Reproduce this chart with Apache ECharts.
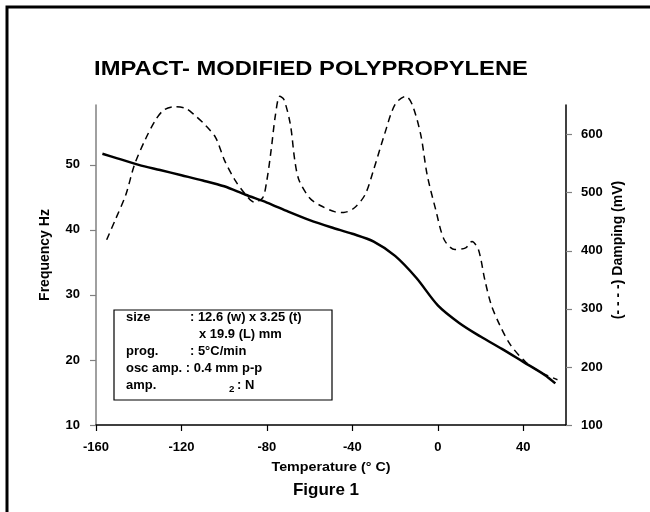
<!DOCTYPE html>
<html>
<head>
<meta charset="utf-8">
<script src="https://cdn.jsdelivr.net/npm/echarts@6/dist/echarts.min.js"></script>
<style>
  html, body { margin: 0; padding: 0; background: #fff; }
  #chart { width: 650px; height: 512px; }
</style>
</head>
<body>
<div id="chart"></div>
<script>
// frequency curve (solid line), left axis
var freqTemp = [-157, -150, -140, -130, -120, -110, -100, -90, -80, -70, -60, -50, -40, -30, -20, -10, 0, 10, 20, 30, 40, 50, 55];
var freqHz   = [51.7, 51.0, 50.0, 49.2, 48.4, 47.6, 46.7, 45.4, 44.2, 42.8, 41.5, 40.4, 39.4, 38.2, 36.0, 32.6, 28.4, 25.7, 23.6, 21.7, 19.7, 17.7, 16.4];

// damping curve (dashed line), right axis
var dampTemp = [-155, -151, -146, -142, -137, -132, -128, -123, -118, -114, -109, -104, -100, -95, -90, -86, -82, -80, -78, -76, -74, -72, -69, -67, -65, -60, -55, -48, -44, -39, -34, -30, -25, -20, -15, -12, -8, -5, -1, 3, 8, 13, 16, 19, 22, 25, 29, 34, 41, 48, 56];
var dampMV   = [419, 453, 497, 548, 591, 626, 643, 648, 645, 634, 617, 595, 557, 522, 497, 484, 491, 522, 574, 634, 666, 660, 617, 557, 522, 491, 478, 467, 466, 474, 497, 540, 600, 652, 666, 652, 600, 531, 471, 419, 402, 405, 416, 402, 350, 307, 272, 238, 209, 191, 178];

var xTicks = [-160, -120, -80, -40, 0, 40];
var freqTicks = [10, 20, 30, 40, 50];
var dampTicks = [100, 200, 300, 400, 500, 600];

function pairs(xs, ys) {
  return xs.map(function (x, i) { return [x, ys[i]]; });
}

var tickFont = { fontFamily: 'Liberation Sans', fontWeight: 'bold', fontSize: 13, color: '#000' };

function boxText(x, y, text, size) {
  return {
    type: 'text', x: x, y: y, scaleX: 1.08,
    style: { text: text, font: 'bold ' + (size || 12) + 'px "Liberation Sans", Arial, sans-serif', fill: '#000', align: 'left', verticalAlign: 'middle' }
  };
}

var chart = echarts.init(document.getElementById('chart'));

var option = {
  animation: false,
  backgroundColor: '#fff',
  grid: { left: 96, right: 84, top: 105, bottom: 87 },
  xAxis: {
    type: 'value', min: -160, max: 60,
    axisLine: { show: true, onZero: false, lineStyle: { color: '#000', width: 1.5 } },
    axisTick: { show: true, length: 6, customValues: xTicks, lineStyle: { color: '#000', width: 1.2 } },
    axisLabel: Object.assign({ customValues: xTicks, margin: 16 }, tickFont),
    splitLine: { show: false }
  },
  yAxis: [
    {
      type: 'value', min: 10, max: 59.2, position: 'left',
      axisLine: { show: true, onZero: false, lineStyle: { color: '#808080', width: 1.5 } },
      axisTick: { show: true, length: 6, customValues: freqTicks, lineStyle: { color: '#808080', width: 1.2 } },
      axisLabel: Object.assign({ customValues: freqTicks, margin: 16 }, tickFont),
      splitLine: { show: false }
    },
    {
      type: 'value', min: 100, max: 651, position: 'right',
      axisLine: { show: true, onZero: false, lineStyle: { color: '#000', width: 1.5 } },
      axisTick: { show: true, length: 6, customValues: dampTicks, lineStyle: { color: '#808080', width: 1.2 } },
      axisLabel: Object.assign({ customValues: dampTicks, margin: 15 }, tickFont),
      splitLine: { show: false }
    }
  ],
  series: [
    {
      name: 'Frequency', type: 'line', yAxisIndex: 0,
      data: pairs(freqTemp, freqHz),
      smooth: 0.3, showSymbol: false, clip: false,
      lineStyle: { color: '#000', width: 2.5 }
    },
    {
      name: 'Damping', type: 'line', yAxisIndex: 1,
      data: pairs(dampTemp, dampMV),
      smooth: 0.3, showSymbol: false, clip: false,
      lineStyle: { color: '#000', width: 1.5, type: [7, 5] }
    }
  ],
  graphic: [
    // outer frame (only top and left edges fall inside the picture)
    { type: 'rect', shape: { x: 7, y: 7, width: 700, height: 600 }, style: { fill: 'none', stroke: '#000', lineWidth: 3 } },
    {
      type: 'text', x: 311, y: 69, scaleX: 1.13,
      style: { text: 'IMPACT- MODIFIED POLYPROPYLENE', font: 'bold 21px "Liberation Sans", Arial, sans-serif', fill: '#000', align: 'center', verticalAlign: 'middle' }
    },
    {
      type: 'text', x: 45, y: 255, rotation: Math.PI / 2,
      style: { text: 'Frequency Hz', font: 'bold 14px "Liberation Sans", Arial, sans-serif', fill: '#000', align: 'center', verticalAlign: 'middle' }
    },
    {
      type: 'text', x: 618, y: 250, rotation: Math.PI / 2,
      style: { text: '(- - - -) Damping (mV)', font: 'bold 14px "Liberation Sans", Arial, sans-serif', fill: '#000', align: 'center', verticalAlign: 'middle' }
    },
    {
      type: 'text', x: 331, y: 467, scaleX: 1.1,
      style: { text: 'Temperature (° C)', font: 'bold 13px "Liberation Sans", Arial, sans-serif', fill: '#000', align: 'center', verticalAlign: 'middle' }
    },
    {
      type: 'text', x: 326, y: 490,
      style: { text: 'Figure 1', font: 'bold 17px "Liberation Sans", Arial, sans-serif', fill: '#000', align: 'center', verticalAlign: 'middle' }
    },
    // annotation box
    { type: 'rect', shape: { x: 114, y: 310, width: 218, height: 90 }, style: { fill: '#fff', stroke: '#000', lineWidth: 1.2 } },
    boxText(126, 318, 'size'),
    boxText(190, 318, ': 12.6 (w) x 3.25 (t)'),
    boxText(199, 335, 'x 19.9 (L) mm'),
    boxText(126, 352, 'prog.'),
    boxText(190, 352, ': 5°C/min'),
    boxText(126, 369, 'osc amp. : 0.4 mm p-p'),
    boxText(126, 386, 'amp.'),
    boxText(229, 390, '2', 9),
    boxText(237, 386, ': N')
  ]
};

chart.setOption(option);
window.addEventListener('resize', function () { chart.resize(); });
</script>
</body>
</html>
